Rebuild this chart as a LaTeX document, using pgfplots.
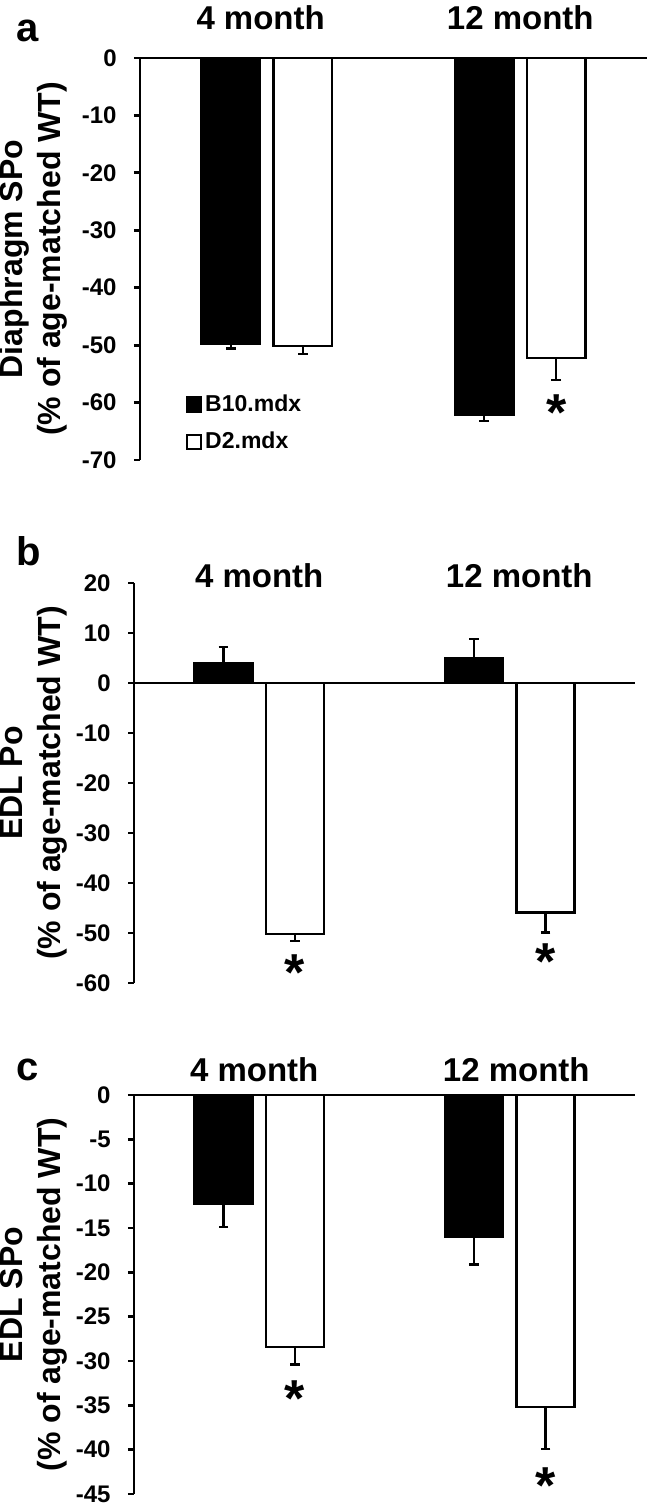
\documentclass[border=0pt]{standalone}
\usepackage{pgfplots}
\pgfplotsset{compat=1.18}
\usepackage{fontspec}
\setmainfont{Liberation Sans}
\pgfplotsset{
  panel/.style={
    scale only axis,
    ybar, bar shift=0pt, bar width=0.231,
    xmin=-0.5, xmax=1.5,
    axis x line*=middle, axis y line*=left,
    axis line style={-, line width=1.4pt},
    xtick=\empty,
    tick align=outside, major tick length=3pt,
    ytick style={line width=1.4pt, black},
    /pgf/number format/assume math mode=true,
    yticklabel style={font=\fontsize{12}{13}\selectfont\bfseries, inner sep=0pt, xshift=-8.5pt},
    every axis y label/.style={rotate=90, anchor=south, inner sep=0pt,
      font=\fontsize{16}{19}\selectfont\bfseries, align=center},
    clip=false,
    legend image code/.code={\draw[#1, line width=0.9pt] (0pt,-3.6pt) rectangle (7.2pt,3.6pt);},
  },
  errs/.style={
    /pgfplots/error bars/y dir=#1,
    /pgfplots/error bars/y explicit,
    /pgfplots/error bars/error bar style={line width=1.2pt, black},
    /pgfplots/error bars/error mark options={rotate=90, mark size=2.4pt, line width=1.2pt, black}},
  b10/.style={fill=black, draw=black, line width=1.2pt, errs=#1},
  b10/.default=minus,
  d2/.style={fill=white, draw=black, line width=1.2pt, errs=minus},
}
\newcommand{\ttl}[1]{\fontsize{16.5}{18}\selectfont\bfseries #1}
\newcommand{\sigstar}{\fontsize{26}{26}\selectfont\bfseries *}
\begin{document}
\begin{tikzpicture}
\useasboundingbox (0,0) rectangle (324.5pt,-753.5pt);
% panel letters
\node[anchor=base west, inner sep=0pt, font=\fontsize{20}{20}\selectfont\bfseries] at (8pt,-21pt) {a};
\node[anchor=base west, inner sep=0pt, font=\fontsize{20}{20}\selectfont\bfseries] at (8pt,-282.5pt) {b};
\node[anchor=base west, inner sep=0pt, font=\fontsize{20}{20}\selectfont\bfseries] at (8pt,-540pt) {c};

% ---------------- panel a
\begin{axis}[panel, at={(70pt,-230pt)}, anchor=south west,
  width=253.5pt, height=201pt,
  ymin=-70, ymax=0, ytick={-70,-60,...,0},
  ylabel={Diaphragm SPo\\(\% of age-matched WT)},
  ylabel style={at={(axis description cs:-0.142,0.5)}},
  legend style={at={(axis cs:-0.32,-63.6)}, anchor=west, draw=none, fill=none,
    font=\fontsize{11.5}{13}\selectfont\bfseries, inner sep=0pt, row sep=6pt,
    nodes={inner sep=1.5pt}},
  legend cell align=left]
\addplot[b10] coordinates {(-0.142,-49.7) +- (0,0.9) (0.858,-62.2) +- (0,1.0)};
\addlegendentry{B10.mdx}
\addplot[d2] coordinates {(0.142,-50.1) +- (0,1.4) (1.142,-52.2) +- (0,3.9)};
\addlegendentry{D2.mdx}
\node at (axis cs:-0.024,7.1) {\ttl{4 month}};
\node at (axis cs:1.0,7.1) {\ttl{12 month}};
\node[anchor=base, inner sep=0pt, yshift=-12.5pt] at (axis cs:1.142,-60.5) {\sigstar};
\end{axis}

% ---------------- panel b
\begin{axis}[panel, at={(67pt,-491.5pt)}, anchor=south west,
  width=250.5pt, height=200pt,
  ymin=-60, ymax=20, ytick={-60,-50,...,20},
  ylabel={EDL Po\\(\% of age-matched WT)},
  ylabel style={at={(axis description cs:-0.132,0.5)}}]
\addplot[b10=plus] coordinates {(-0.143,4.0) +- (0,3.2) (0.857,5.0) +- (0,3.8)};
\addplot[d2] coordinates {(0.143,-50.2) +- (0,1.4) (1.143,-45.9) +- (0,4.0)};
\node at (axis cs:0,21.4) {\ttl{4 month}};
\node at (axis cs:1.038,21.4) {\ttl{12 month}};
\node[anchor=base, inner sep=0pt, yshift=-12.5pt] at (axis cs:0.143,-56.4) {\sigstar};
\node[anchor=base, inner sep=0pt, yshift=-12.5pt] at (axis cs:1.143,-54.2) {\sigstar};
\end{axis}

% ---------------- panel c
\begin{axis}[panel, at={(67pt,-747pt)}, anchor=south west,
  width=250.5pt, height=199.5pt,
  ymin=-45, ymax=0, ytick={-45,-40,...,0},
  ylabel={EDL SPo\\(\% of age-matched WT)},
  ylabel style={at={(axis description cs:-0.132,0.5)}}]
\addplot[b10] coordinates {(-0.143,-12.3) +- (0,2.6) (0.857,-16.0) +- (0,3.1)};
\addplot[d2] coordinates {(0.143,-28.4) +- (0,2.0) (1.143,-35.2) +- (0,4.7)};
\node at (axis cs:-0.02,2.9) {\ttl{4 month}};
\node at (axis cs:1.026,2.9) {\ttl{12 month}};
\node[anchor=base, inner sep=0pt, yshift=-12.5pt] at (axis cs:0.143,-33.4) {\sigstar};
\node[anchor=base, inner sep=0pt, yshift=-12.5pt] at (axis cs:1.143,-43.3) {\sigstar};
\end{axis}
\end{tikzpicture}
\end{document}
